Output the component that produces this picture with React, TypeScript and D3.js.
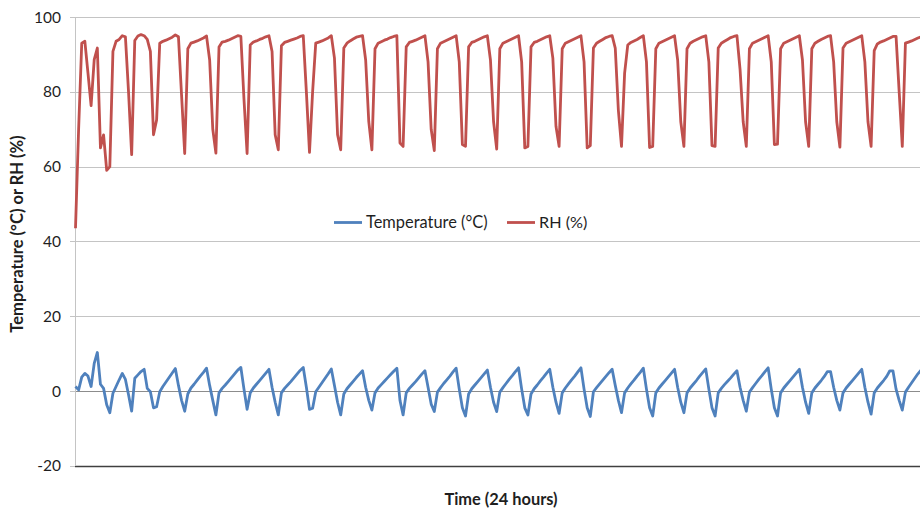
import * as d3 from "d3";

// RH (%) readings, one point per time step (first 35 irregular, then 10-step cycles)
const rhValues = [
  43.5, 70.0, 93.0, 93.5, 85.0, 76.3, 88.6, 91.7, 65.0, 68.5,
  59.0, 60.0, 90.8, 93.5, 94.0, 95.0, 94.7, 80.0, 63.2, 93.7,
  94.9, 95.3, 95.0, 94.0, 90.8, 68.5, 72.5, 93.0, 93.5, 93.8,
  94.2, 94.6, 95.2, 94.7, 79.0,
  63.5, 91.5, 93.0, 93.3, 93.6, 94.0, 94.4, 94.9, 88.5, 70.0,
  63.6, 92.0, 93.3, 93.5, 93.8, 94.2, 94.6, 95.0, 94.8, 78.0,
  63.5, 92.5, 93.3, 93.6, 94.0, 94.3, 94.7, 95.0, 90.8, 68.5,
  64.5, 92.3, 93.2, 93.5, 93.8, 94.1, 94.4, 94.8, 95.0, 80.0,
  63.8, 80.0, 93.0, 93.3, 93.6, 94.0, 94.4, 95.0, 89.0, 68.5,
  64.5, 91.7, 93.0, 93.6, 94.1, 94.6, 94.8, 95.0, 88.5, 72.0,
  64.5, 91.5, 93.0, 93.4, 93.8, 94.1, 94.5, 94.8, 95.0, 66.3,
  65.4, 92.0, 93.2, 93.5, 93.8, 94.2, 94.6, 95.0, 88.0, 70.0,
  64.3, 91.5, 93.0, 93.4, 93.8, 94.2, 94.6, 95.0, 88.0, 65.9,
  65.4, 92.0, 93.2, 93.5, 93.9, 94.3, 94.7, 95.0, 88.5, 72.0,
  64.7, 91.5, 93.0, 93.4, 93.8, 94.2, 94.6, 95.0, 88.0, 65.0,
  65.4, 92.0, 93.2, 93.5, 93.9, 94.3, 94.7, 95.0, 89.0, 70.8,
  65.4, 91.5, 93.0, 93.4, 93.8, 94.2, 94.6, 95.0, 88.0, 65.0,
  65.6, 91.7, 93.0, 93.5, 94.0, 94.5, 94.8, 95.0, 91.7, 75.0,
  65.4, 85.0, 92.5, 93.2, 93.6, 94.0, 94.5, 95.0, 88.0, 65.1,
  65.4, 91.5, 93.0, 93.4, 93.8, 94.2, 94.6, 95.0, 88.5, 72.0,
  65.4, 91.5, 93.0, 93.5, 93.9, 94.3, 94.7, 95.0, 88.0, 65.6,
  65.4, 91.7, 93.0, 93.5, 94.0, 94.5, 94.8, 95.0, 86.0, 72.0,
  65.4, 91.5, 93.0, 93.4, 93.8, 94.2, 94.6, 95.0, 88.0, 65.9,
  66.0, 91.5, 93.0, 93.4, 93.8, 94.2, 94.6, 95.0, 88.5, 72.0,
  65.4, 91.5, 93.0, 93.5, 94.0, 94.4, 94.8, 95.0, 88.0, 72.0,
  65.2, 91.7, 93.0, 93.4, 93.8, 94.2, 94.6, 95.0, 88.0, 72.0,
  65.4, 91.0, 92.8, 93.3, 93.6, 94.0, 94.4, 94.8, 94.8, 80.0,
  65.4, 93.0, 93.3, 93.6, 94.0, 94.4, 94.7,
];

// Temperature (°C) readings, same time steps
const tempValues = [
  1.2, 0.3, 3.7, 4.7, 4.0, 1.2, 7.4, 10.3, 1.8, 0.7,
  -3.7, -5.8, -0.6, 1.2, 3.0, 4.7, 3.1, -1.0, -5.4, 3.4,
  4.3, 5.2, 5.8, 0.7, -0.2, -4.5, -4.2, -0.2, 1.2, 2.4,
  3.6, 4.8, 6.0, 1.5, -2.5,
  -5.4, -0.8, 0.8, 1.8, 2.9, 4.0, 5.0, 6.1, 1.5, -2.5,
  -6.4, -0.5, 0.7, 1.6, 2.6, 3.6, 4.6, 5.6, 6.3, 0.5,
  -4.9, -0.5, 0.8, 1.8, 2.8, 3.8, 4.8, 5.8, 1.0, -3.0,
  -6.4, -0.5, 0.7, 1.6, 2.5, 3.5, 4.5, 5.5, 6.3, 1.0,
  -4.9, -4.6, -0.2, 1.0, 2.2, 3.4, 4.6, 5.9, 1.5, -3.0,
  -6.4, -0.8, 0.6, 1.6, 2.6, 3.6, 4.5, 5.4, 1.0, -2.5,
  -5.1, -0.5, 0.8, 1.7, 2.6, 3.5, 4.4, 5.3, 6.1, -2.5,
  -6.4, -0.5, 0.7, 1.6, 2.5, 3.5, 4.5, 5.4, 1.0, -3.5,
  -5.5, -0.3, 0.9, 2.0, 3.0, 4.0, 5.1, 6.1, 0.5, -4.5,
  -6.7, -0.8, 0.6, 1.6, 2.6, 3.6, 4.6, 5.6, 1.0, -3.0,
  -5.5, -0.3, 0.9, 2.0, 3.1, 4.1, 5.2, 6.2, 0.5, -4.5,
  -6.4, -0.8, 0.6, 1.6, 2.7, 3.7, 4.8, 5.8, 1.0, -3.0,
  -6.0, -0.5, 0.8, 1.9, 3.0, 4.0, 5.1, 6.2, 0.5, -4.5,
  -6.8, -0.2, 0.9, 1.9, 2.9, 3.9, 4.9, 5.8, 1.5, -2.5,
  -5.8, -0.5, 0.8, 1.9, 2.9, 4.0, 5.0, 6.1, 0.5, -4.5,
  -6.7, -0.5, 0.8, 1.8, 2.8, 3.8, 4.8, 5.8, 1.0, -3.0,
  -5.8, -0.5, 0.8, 1.8, 2.8, 3.9, 4.9, 5.9, 0.5, -4.5,
  -6.7, -0.5, 0.7, 1.7, 2.6, 3.5, 4.5, 5.4, 1.0, -2.5,
  -5.4, -0.3, 0.9, 2.0, 3.1, 4.1, 5.2, 6.2, 0.5, -4.5,
  -6.7, -0.5, 0.8, 1.8, 2.8, 3.8, 4.8, 5.8, 1.0, -3.0,
  -6.0, -0.5, 0.8, 1.8, 2.8, 3.9, 5.2, 5.2, 1.0, -2.5,
  -5.1, -0.5, 0.8, 1.8, 2.8, 3.8, 4.8, 5.8, 1.0, -3.0,
  -6.2, -0.5, 0.8, 1.8, 2.8, 3.9, 5.4, 5.4, 0.5, -2.5,
  -5.1, -0.3, 1.0, 2.2, 3.4, 4.6, 5.6,
];

const yTicks = [-20, 0, 20, 40, 60, 80, 100];
const seriesNames = ["Temperature (°C)", "RH (%)"];
const seriesColors = ["#4f81bd", "#c0504d"];

const FONT = "Lato, 'Open Sans', sans-serif";

export default function App() {
  const width = 920;
  const height = 510;
  const left = 75.5;
  const step = 3.12; // px per sample, 288 samples over 24 h (plot runs past the frame)
  const nSamples = 288;

  const x = d3.scaleLinear().domain([0, nSamples - 1]).range([left, left + (nSamples - 1) * step]);
  const y = d3.scaleLinear().domain([-20, 100]).range([465.8, 17]);

  const line = d3
    .line<number>()
    .x((_, i) => x(i))
    .y((d) => y(d));

  return (
    <svg
      width={width}
      height={height}
      style={{ position: "absolute", left: 0, top: 0, background: "#fff" }}
      fontFamily={FONT}
    >
      {/* gridlines */}
      {yTicks.map((t) => (
        <line
          key={t}
          x1={75}
          x2={width}
          y1={Math.round(y(t)) + 0.5}
          y2={Math.round(y(t)) + 0.5}
          stroke={t === -20 ? "#404040" : t === 0 ? "#8c8c8c" : "#c4c4c4"}
          strokeWidth={t === -20 ? 1.5 : 1}
        />
      ))}
      {/* value axis */}
      <line x1={75.5} x2={75.5} y1={y(100)} y2={y(-20)} stroke="#c4c4c4" />
      {yTicks.map((t) => (
        <g key={"t" + t}>
          <line x1={70} x2={75} y1={Math.round(y(t)) + 0.5} y2={Math.round(y(t)) + 0.5} stroke="#c4c4c4" />
          <text x={61} y={y(t)} dy="0.36em" textAnchor="end" fontSize={15.5} fill="#1f1f1f">
            {t}
          </text>
        </g>
      ))}

      {/* series */}
      <path d={line(tempValues) ?? ""} fill="none" stroke={seriesColors[0]} strokeWidth={2.8} strokeLinejoin="round" />
      <path d={line(rhValues) ?? ""} fill="none" stroke={seriesColors[1]} strokeWidth={2.8} strokeLinejoin="round" />

      {/* legend */}
      <g>
        <line x1={334} x2={362} y1={222.5} y2={222.5} stroke={seriesColors[0]} strokeWidth={2.8} />
        <text x={366} y={228} fontSize={16.4} fill="#1f1f1f">
          {seriesNames[0]}
        </text>
        <line x1={507} x2={535} y1={222.5} y2={222.5} stroke={seriesColors[1]} strokeWidth={2.8} />
        <text x={539} y={228} fontSize={16.2} fill="#1f1f1f">
          {seriesNames[1]}
        </text>
      </g>

      {/* axis titles */}
      <text
        transform="translate(23,234) rotate(-90)"
        textAnchor="middle"
        fontSize={16.5}
        fontWeight="bold"
        fill="#1f1f1f"
      >
        Temperature (°C) or RH (%)
      </text>
      <text x={501} y={505} textAnchor="middle" fontSize={16.4} fontWeight="bold" fill="#1f1f1f">
        Time (24 hours)
      </text>
    </svg>
  );
}
